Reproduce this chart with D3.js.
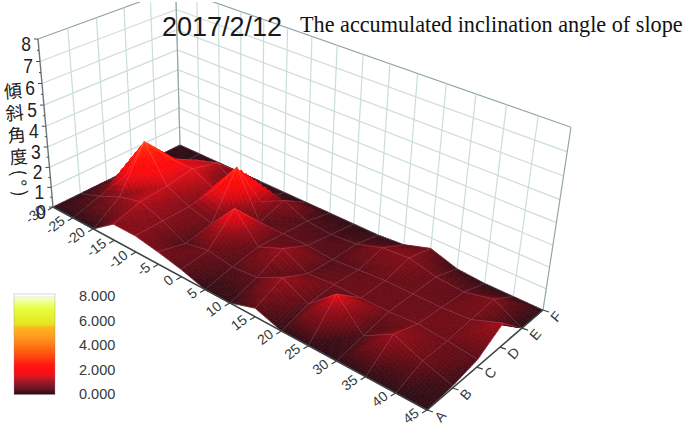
<!DOCTYPE html>
<html>
<head>
<meta charset="utf-8">
<script src="https://cdn.jsdelivr.net/npm/d3@7"></script>
<style>
  html, body { margin: 0; padding: 0; background: #fff; }
  svg { display: block; }
</style>
</head>
<body>
<svg id="chart" width="685" height="427"></svg>
<script>
const xValues = [-30, -25, -20, -15, -10, -5, 0, 5, 10, 15, 20, 25, 30, 35, 40, 45];
const xLabels = ["-30", "-25", "-20", "-15", "-10", "-5", "0", "5", "10", "15", "20", "25", "30", "35", "40", "45"];
const rowLabels = ["A", "B", "C", "D", "E", "F"];
const zTicks = [0, 1, 2, 3, 4, 5, 6, 7, 8];
const legendTicks = [0, 2, 4, 6, 8];

// inclination per row, one value per x position
const rowA = [0, 0, 0, .8, .8, .6, .35, 0, 0, .4, 0, 0, 0, 0, 0, 0];
const rowB = [0, .4, .9, 1.2, .8, .25, .5, .3, .4, 1.0, .4, 1.5, .25, 1.0, .5, .1];
const rowC = [0, .8, 3.0, 1.3, .8, .5, 1.8, .5, 1.0, .4, .5, .5, .5, .6, .5, .35];
const rowD = [0, .5, 1.5, 1.5, 1.0, 2.6, .4, .4, .4, .3, .4, .5, .5, .5, .6, 1.1];
const rowE = [0, 0, .8, 1.15, .3, .2, .8, .3, .2, .3, .7, .8, .5, .4, .7, 0];
const rowF = [0, 0, 0, 0, 0, 0, 0, 0, 0, 0, .1, .5, .1, 0, 0, 0];
const heights = [rowA, rowB, rowC, rowD, rowE, rowF];

const colorStops = [0, .5, 1, 1.4, 1.8, 2.4, 3, 4, 5.4, 5.7, 7, 7.8, 8];
const colorValues = ["#300c17", "#6a0a18", "#960a1a", "#d80a14", "#fb0a12", "#ff1a10", "#ff4210", "#ff7a14", "#ffb010", "#e4e420", "#e8ff40", "#f4ffc0", "#eef2f2"];
const color = d3.scaleLinear().domain(colorStops).range(colorValues);

const svg = d3.select("#chart");

const x = d3.scaleLinear().domain([-30, 45]).range([0, 1]);
const y = d3.scaleLinear().domain([0, 5]).range([0, 1]);
const z = d3.scaleLinear().domain([0, 8]).range([0, 1]);

// screen positions of the box corners
const floorLeft = [53, 207], floorFront = [427, 410], floorRight = [543, 310], floorBack = [180, 145];
const topLeft = [38, 39], topRight = [571, 127];

function solve(A, b) {
  const m = A.map((r, i) => [...r, b[i]]), n = m.length;
  for (let i = 0; i < n; i++) {
    let p = i;
    for (let j = i + 1; j < n; j++) if (Math.abs(m[j][i]) > Math.abs(m[p][i])) p = j;
    [m[i], m[p]] = [m[p], m[i]];
    for (let j = 0; j < n; j++) {
      if (j === i) continue;
      const f = m[j][i] / m[i][i];
      for (let k = i; k <= n; k++) m[j][k] -= f * m[i][k];
    }
  }
  return m.map((r, i) => r[n] / r[i]);
}

// floor homography, unit square to screen
const pairs = [[0, 0, floorLeft], [1, 0, floorFront], [1, 1, floorRight], [0, 1, floorBack]];
const A8 = [], b8 = [];
pairs.forEach(([s, t, [u, v]]) => {
  A8.push([s, t, 1, 0, 0, 0, -u * s, -u * t]); b8.push(u);
  A8.push([0, 0, 0, s, t, 1, -v * s, -v * t]); b8.push(v);
});
const h = solve(A8, b8);
const floorH = (s, t) => [h[0] * s + h[1] * t + h[2], h[3] * s + h[4] * t + h[5], h[6] * s + h[7] * t + 1];

// vertical column of the camera matrix, from the two top corners
const fl = floorH(0, 0), fr = floorH(1, 1);
const r3 = (topLeft[0] * fl[2] - fl[0] - (topRight[0] * fr[2] - fr[0])) / (topRight[0] - topLeft[0]);
const p3 = topLeft[0] * fl[2] - fl[0] + topLeft[0] * r3;
const q3 = topLeft[1] * fl[2] - fl[1] + topLeft[1] * r3;

function project(xv, row, val) {
  const f = floorH(x(xv), y(row)), t = z(val), w = f[2] + r3 * t;
  return [(f[0] + p3 * t) / w, (f[1] + q3 * t) / w];
}

const line = d3.line();
const defs = svg.append("defs");
defs.append("clipPath").attr("id", "top-crop")
  .append("rect").attr("x", 0).attr("y", 2).attr("width", 685).attr("height", 425);
defs.append("filter").attr("id", "soft").attr("x", "-5%").attr("y", "-5%").attr("width", "110%").attr("height", "110%")
  .append("feGaussianBlur").attr("stdDeviation", .55);

// walls
const walls = svg.append("g").attr("clip-path", "url(#top-crop)").attr("fill", "none");
const gridColor = "#cbdcdc", edgeColor = "#93a6a6";
zTicks.forEach(v => {
  const top = v === 8;
  walls.append("path").attr("d", line([project(-30, 0, v), project(-30, 5, v), project(45, 5, v)]))
    .attr("stroke", top ? edgeColor : gridColor).attr("stroke-width", 1.2);
});
d3.range(1, 5).forEach(r => {
  walls.append("path").attr("d", line([project(-30, r, 0), project(-30, r, 8)]))
    .attr("stroke", gridColor).attr("stroke-width", 1.2);
});
xValues.forEach(v => {
  walls.append("path").attr("d", line([project(v, 5, 0), project(v, 5, 8)]))
    .attr("stroke", v === 45 ? edgeColor : gridColor).attr("stroke-width", 1.2);
});
walls.append("path").attr("d", line([project(-30, 5, 0), project(-30, 5, 8)]))
  .attr("stroke", edgeColor).attr("stroke-width", 1.2);

// surface, back rows first, each cell split up so the colour runs smoothly
const surface = svg.append("g").attr("filter", "url(#soft)");
const steps = 10;
// two flat triangles per cell, split along the low-x/low-row to high-x/high-row diagonal
const facet = (a, b, c, d, s, t) => t <= s ? a + (b - a) * s + (c - b) * t : a + (d - a) * t + (c - d) * s;
for (let r = rowLabels.length - 2; r >= 0; r--) {
  for (let c = 0; c < xValues.length - 1; c++) {
    const z00 = heights[r][c], z10 = heights[r][c + 1], z11 = heights[r + 1][c + 1], z01 = heights[r + 1][c];
    const x0 = xValues[c], x1 = xValues[c + 1];
    const at = (s, t) => project(x0 + (x1 - x0) * s, r + t, facet(z00, z10, z11, z01, s, t));
    for (let j = steps - 1; j >= 0; j--) {
      for (let i = 0; i < steps; i++) {
        const s0 = i / steps, s1 = (i + 1) / steps, t0 = j / steps, t1 = (j + 1) / steps;
        const mid = facet(z00, z10, z11, z01, (s0 + s1) / 2, (t0 + t1) / 2);
        surface.append("path")
          .attr("d", line([at(s0, t0), at(s1, t0), at(s1, t1), at(s0, t1)]) + "Z")
          .attr("fill", color(mid)).attr("stroke", color(mid)).attr("stroke-width", .8);
      }
    }
    // cell outline
    surface.append("path").attr("d", line([at(0, 0), at(1, 0), at(1, 1), at(0, 1)]) + "Z").attr("fill", "none")
      .attr("stroke", "#fff").attr("stroke-opacity", .14).attr("stroke-width", 1);
  }
}

// axes
const axes = svg.append("g");
const axisColor = "#3c4444", labelColor = "#333b3b";
axes.append("path").attr("d", line([project(-30, 0, 0), project(45, 0, 0), project(45, 5, 0)]))
  .attr("fill", "none").attr("stroke", axisColor).attr("stroke-width", 1.6);
axes.append("path").attr("d", line([project(-30, 0, 0), project(-30, 0, 8)]))
  .attr("fill", "none").attr("stroke", "#6a7777").attr("stroke-width", 1.4);

xValues.forEach((v, i) => {
  const [px, py] = project(v, 0, 0);
  axes.append("line").attr("x1", px).attr("y1", py).attr("x2", px - 5).attr("y2", py + 3)
    .attr("stroke", axisColor).attr("stroke-width", 1.2);
  axes.append("text").attr("transform", `translate(${px - 7},${py + 5}) rotate(-38)`)
    .attr("text-anchor", "end").attr("font-family", "Liberation Sans").attr("font-size", 14)
    .attr("fill", labelColor).text(xLabels[i]);
});
rowLabels.forEach((l, i) => {
  const [px, py] = project(45, i, 0);
  axes.append("line").attr("x1", px).attr("y1", py).attr("x2", px + 6).attr("y2", py + 2)
    .attr("stroke", axisColor).attr("stroke-width", 1.2);
  axes.append("text").attr("transform", `translate(${px + 14},${py + 13}) rotate(-50)`)
    .attr("font-family", "Liberation Sans").attr("font-size", 14)
    .attr("fill", labelColor).text(l);
});
d3.range(0, 8.01, .5).forEach(v => {
  const [px, py] = project(-30, 0, v);
  axes.append("line").attr("x1", px).attr("y1", py).attr("x2", px - (v % 1 ? 2 : 4)).attr("y2", py)
    .attr("stroke", "#445050").attr("stroke-width", 1);
});
zTicks.forEach(v => {
  const [px, py] = project(-30, 0, v);
  axes.append("text").attr("transform", `translate(${px - 7},${py + 12}) scale(.85,1)`)
    .attr("text-anchor", "end").attr("font-family", "Liberation Sans").attr("font-size", 20.5)
    .attr("fill", "#222").text(v);
});

// titles
svg.append("text").attr("x", 162).attr("y", 36).attr("font-family", "Liberation Sans")
  .attr("font-size", 27).attr("fill", "#1a1a1a").text("2017/2/12");
svg.append("text").attr("x", 300).attr("y", 32).attr("font-family", "Liberation Serif")
  .attr("font-size", 22.2).attr("fill", "#111").text("The accumulated inclination angle of slope");
svg.append("text").attr("transform", "translate(12,82) rotate(-5)")
  .attr("font-family", "Noto Sans CJK JP").attr("font-size", 18).attr("fill", "#222")
  .attr("letter-spacing", 4)
  .style("writing-mode", "vertical-rl").text("傾斜角度(°)");

// colour legend
const legend = svg.append("g");
const legendY = d3.scaleLinear().domain([0, 8]).range([394, 296]);
d3.range(0, 8, .08).forEach(v => {
  legend.append("rect").attr("x", 14).attr("width", 41)
    .attr("y", legendY(v + .08)).attr("height", legendY(v) - legendY(v + .08) + .5)
    .attr("fill", color(v));
});
legend.append("rect").attr("x", 14).attr("y", 294).attr("width", 41).attr("height", 100.5)
  .attr("fill", "none").attr("stroke", "#8a8aa0").attr("stroke-opacity", .35);
legendTicks.forEach(v => {
  legend.append("text").attr("x", 79).attr("y", legendY(v) + 5)
    .attr("font-family", "Liberation Sans").attr("font-size", 14.5)
    .attr("fill", labelColor).text(d3.format(".3f")(v));
});
</script>
</body>
</html>
